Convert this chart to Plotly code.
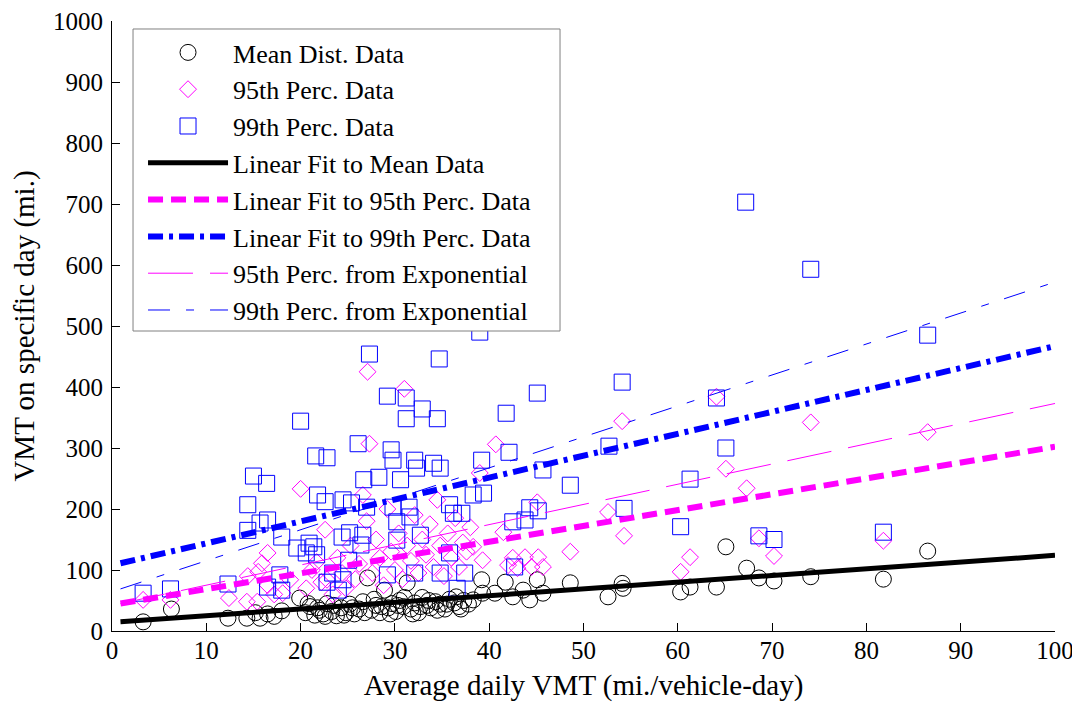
import plotly.graph_objects as go

# ---------------------------------------------------------
# Donnees
# ---------------------------------------------------------
mean_x = [3.3, 6.3, 12.3, 14.3, 15.2, 15.7, 16.5, 17.2, 18.0, 19.9, 20.5, 21.0, 21.5, 22.0,
          22.4, 22.8, 23.3, 23.8, 24.3, 24.8, 25.2, 25.7, 26.2, 26.6, 27.1, 27.5, 28.0, 28.4,
          28.9, 29.3, 29.7, 30.1, 30.5, 30.9, 31.3, 31.7, 32.1, 32.5, 32.9, 33.4, 33.8, 34.3,
          34.8, 35.3, 35.8, 36.3, 36.8, 37.3, 37.8, 38.3, 39.2, 39.3, 40.6, 41.7, 42.5, 43.6,
          44.3, 45.1, 45.7, 48.6, 52.6, 54.1, 54.2, 60.3, 61.3, 64.1, 65.1, 67.3, 68.6, 70.2,
          74.1, 81.8, 86.5,
          20.8, 21.8, 22.6, 23.5, 24.6, 25.5, 26.8, 27.8, 28.6, 29.5, 30.3, 31.0, 31.9, 32.7,
          33.6, 34.5, 35.5, 36.5, 37.0]
mean_y = [15, 36, 21, 21, 30, 21, 28, 24, 33, 54, 30, 40, 26, 34,
          28, 45, 32, 25, 38, 30, 44, 28, 36, 48, 87, 34, 42, 30,
          67, 38, 45, 32, 50, 40, 79, 36, 46, 30, 55, 42, 38, 48,
          44, 36, 52, 46, 40, 50, 44, 51, 84, 62, 62, 80, 56, 67,
          51, 84, 62, 79, 56, 78, 70, 64, 72, 72, 138, 103, 87, 82,
          89, 85, 131,
          45, 38, 24, 42, 26, 38, 30, 52, 40, 28, 42, 55, 28, 40,
          50, 34, 44, 56, 36]

p95_x = [3.3, 6.2, 12.4, 14.3, 14.4, 15.4, 15.5, 15.9, 16.5, 16.5, 17.2, 18.1, 18.9, 20.0,
         20.6, 21.2, 21.7, 22.2, 22.6, 22.8, 23.4, 23.9, 24.4, 24.8, 25.3, 25.8, 26.2, 26.6,
         27.0, 27.1, 27.3, 27.6, 28.0, 28.4, 28.8, 29.2, 29.6, 30.0, 30.4, 30.8, 31.0, 31.3,
         31.7, 32.1, 32.5, 32.9, 33.3, 33.7, 34.1, 34.5, 34.8, 35.2, 35.6, 36.0, 36.4, 36.8,
         37.2, 37.6, 38.0, 38.3, 39.0, 39.3, 40.7, 41.5, 42.0, 42.5, 43.0, 43.8, 44.5, 45.1,
         45.2, 45.7, 48.6, 52.6, 54.1, 54.3, 60.3, 61.3, 64.1, 65.1, 67.3, 68.6, 70.2, 74.1,
         81.8, 86.5]
p95_y = [51, 51, 54, 48, 90, 48, 97, 111, 128, 75, 60, 62, 84, 233,
         70, 100, 113, 80, 166, 84, 60, 120, 95, 70, 140, 85, 110, 223,
         180, 425, 307, 95, 150, 120, 75, 200, 130, 100, 160, 85, 397, 140,
         115, 190, 95, 150, 125, 175, 105, 215, 140, 90, 160, 120, 185, 105,
         145, 130, 170, 138, 259, 116, 306, 162, 108, 120, 103, 121, 105, 211,
         121, 105, 130, 195, 344, 156, 97, 121, 384, 266, 234, 152, 123, 342,
         148, 326]

p99_x = [3.3, 6.2, 12.3, 14.4, 14.4, 15.0, 15.7, 16.4, 16.5, 16.5, 17.8, 18.0, 18.0, 19.6,
         20.0, 20.6, 20.9, 21.4, 21.6, 21.7, 21.8, 22.6, 22.8, 22.8, 23.4, 24.0, 24.4, 24.5,
         24.5, 25.1, 25.2, 25.4, 26.1, 26.4, 26.6, 26.7, 27.0, 27.3, 28.3, 29.2, 29.2, 29.6,
         29.8, 29.8, 30.2, 30.2, 30.6, 31.2, 31.2, 31.5, 31.6, 32.1, 32.1, 32.3, 32.7, 32.9,
         34.1, 34.5, 34.7, 34.8, 34.8, 35.8, 35.8, 36.2, 36.6, 37.1, 37.4, 38.3, 39.0, 39.2,
         39.4, 41.8, 42.1, 42.5, 42.7, 43.8, 44.3, 45.1, 45.2, 45.7, 48.6, 52.7, 54.1, 54.3,
         60.3, 61.3, 64.1, 65.1, 67.2, 68.6, 70.2, 74.1, 81.8, 86.5]
p99_y = [62, 69, 77, 207, 165, 254, 177, 242, 182, 72, 92, 154, 67, 136,
         344, 128, 144, 138, 287, 125, 223, 212, 284, 80, 95, 67, 154, 215,
         84, 116, 161, 210, 307, 141, 157, 248, 203, 454, 252, 385, 92, 297,
         280, 203, 179, 149, 248, 382, 348, 203, 187, 280, 95, 267, 157, 364,
         275, 348, 446, 267, 95, 207, 128, 193, 70, 193, 95, 223, 490, 280,
         226, 357, 293, 179, 105, 182, 202, 390, 197, 264, 239, 303, 408, 201,
         171, 249, 382, 300, 703, 156, 150, 593, 162, 485]

# droites (extremites)
fit_x = [0.9, 100]
mean_fit = [15, 124]
p95_fit = [45, 302]
p99_fit = [111, 467]
p95_exp = [45, 373]
p99_exp = [69, 572]

MAGENTA = "#FF00FF"
BLUE = "#0000FF"
FONT = "Liberation Serif"

fig = go.Figure()

fig.add_trace(go.Scatter(
    x=mean_x, y=mean_y, mode="markers", name="Mean Dist. Data",
    marker=dict(symbol="circle-open", size=16, color="black", line=dict(width=1))
))
fig.add_trace(go.Scatter(
    x=p95_x, y=p95_y, mode="markers", name="95th Perc. Data",
    marker=dict(symbol="diamond-open", size=13, color=MAGENTA, line=dict(width=1))
))
fig.add_trace(go.Scatter(
    x=p99_x, y=p99_y, mode="markers", name="99th Perc. Data",
    marker=dict(symbol="square-open", size=16, color=BLUE, line=dict(width=1))
))
fig.add_trace(go.Scatter(
    x=fit_x, y=mean_fit, mode="lines", name="Linear Fit to Mean Data",
    line=dict(color="black", width=5)
))
fig.add_trace(go.Scatter(
    x=fit_x, y=p95_fit, mode="lines", name="Linear Fit to 95th Perc. Data",
    line=dict(color=MAGENTA, width=6, dash="15px,8px")
))
fig.add_trace(go.Scatter(
    x=fit_x, y=p99_fit, mode="lines", name="Linear Fit to 99th Perc. Data",
    line=dict(color=BLUE, width=6, dash="15px,6px,4px,6px")
))
fig.add_trace(go.Scatter(
    x=fit_x, y=p95_exp, mode="lines", name="95th Perc. from Exponential",
    line=dict(color=MAGENTA, width=1, dash="45px,17px")
))
fig.add_trace(go.Scatter(
    x=fit_x, y=p99_exp, mode="lines", name="99th Perc. from Exponential",
    line=dict(color=BLUE, width=1, dash="22px,16px,8px,16px")
))

# cadre de la legende (dessine a part pour garder la marge interieure)
fig.add_shape(
    type="rect", xref="paper", yref="paper",
    x0=0.0223, x1=0.4751, y0=0.4918, y1=0.9869,
    line=dict(color="#808080", width=1), fillcolor="white", layer="above",
)

# la page html ajoute 8px de marge autour de la figure
fig.update_layout(
    width=1072, height=694,
    margin=dict(l=104, r=25, t=13, b=71, autoexpand=False),
    paper_bgcolor="white", plot_bgcolor="white",
    font=dict(family=FONT, size=24, color="black"),
    legend=dict(
        x=0.0329, y=0.9869, xanchor="left", yanchor="top",
        bgcolor="rgba(0,0,0,0)", borderwidth=0,
        font=dict(family=FONT, size=26), itemwidth=80,
    ),
    xaxis=dict(
        range=[0, 100], dtick=10, ticks="inside", ticklen=8, tickcolor="black",
        showline=True, linecolor="black", linewidth=1, showgrid=False, zeroline=False,
        tickfont=dict(size=25), automargin=False, ticklabelstandoff=-3,
        ticklabeloverflow="allow",
        title=dict(text="Average daily VMT (mi./vehicle-day)", standoff=18),
    ),
    yaxis=dict(
        range=[0, 1000], dtick=100, ticks="inside", ticklen=8, tickcolor="black",
        showline=True, linecolor="black", linewidth=1, showgrid=False, zeroline=False,
        tickfont=dict(size=25), automargin=False, ticklabelstandoff=3,
        ticklabeloverflow="allow",
        title=dict(text="VMT on specific day (mi.)", standoff=12),
    ),
)

fig.write_html("out.html")
